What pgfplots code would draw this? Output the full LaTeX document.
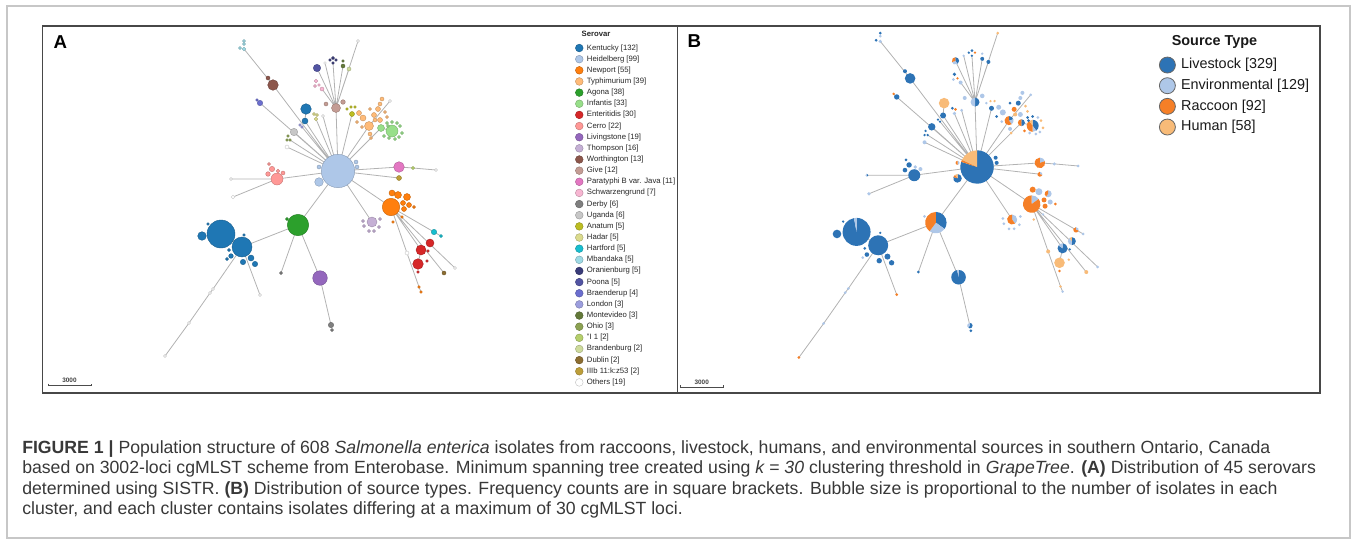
\documentclass[border=0pt]{standalone}
\usepackage{pgfplots}
\pgfplotsset{compat=1.18}
\usepackage{pgfplotstable}
\usepackage{fontspec}
\setmainfont{Liberation Sans}
% serovar colours
\definecolor{Ke}{HTML}{1F77B4}\definecolor{He}{HTML}{AEC7E8}\definecolor{Ne}{HTML}{FF7F0E}
\definecolor{Ty}{HTML}{FFBB78}\definecolor{Ag}{HTML}{2CA02C}\definecolor{In}{HTML}{98DF8A}
\definecolor{En}{HTML}{D62728}\definecolor{Ce}{HTML}{FF9896}\definecolor{Li}{HTML}{9467BD}
\definecolor{Th}{HTML}{C5B0D5}\definecolor{Wo}{HTML}{8C564B}\definecolor{Gi}{HTML}{C49C94}
\definecolor{Pa}{HTML}{E377C2}\definecolor{Sc}{HTML}{F7B6D2}\definecolor{De}{HTML}{7F7F7F}
\definecolor{Ug}{HTML}{C7C7C7}\definecolor{An}{HTML}{BCBD22}\definecolor{Ha}{HTML}{DBDB8D}
\definecolor{Hf}{HTML}{17BECF}\definecolor{Mb}{HTML}{9EDAE5}\definecolor{Or}{HTML}{393B79}
\definecolor{Po}{HTML}{5254A3}\definecolor{Br}{HTML}{6B6ECF}\definecolor{Lo}{HTML}{9C9EDE}
\definecolor{Mo}{HTML}{637939}\definecolor{Oh}{HTML}{8CA252}\definecolor{Ii}{HTML}{B5CF6B}
\definecolor{Bb}{HTML}{CEDB9C}\definecolor{Du}{HTML}{8C6D31}\definecolor{Ib}{HTML}{BD9E39}
\definecolor{Ot}{HTML}{FFFFFF}
% source colours
\definecolor{Lv}{HTML}{2D73B5}\definecolor{Ev}{HTML}{AEC7E8}\definecolor{Ra}{HTML}{F57F27}\definecolor{Hu}{HTML}{F8BB78}

\newcommand\pieslice[2]{%
  \pgfmathsetmacro\fr{#1}%
  \ifdim\fr pt>0.001pt
    \pgfmathsetmacro\aS{90-360*\cum}%
    \pgfmathsetmacro\aE{90-360*(\cum+\fr)}%
    \pgfpathmoveto{\pgfpointorigin}%
    \pgfpathlineto{\pgfpointpolar{\aS}{\rp pt}}%
    \pgfpatharc{\aS}{\aE}{\rp pt}%
    \pgfpathclose
    \pgfsetfillcolor{#2}\pgfusepath{fill}%
    \pgfmathsetmacro\cum{\cum+\fr}%
  \fi}
\pgfdeclareplotmark{bubA}{%
  \pgfmathsetmacro\rp{0.75*\rr}%
  \pgfpathcircle{\pgfpointorigin}{\rp pt}%
  \pgfsetfillcolor{\pgfplotspointmeta}\pgfsetstrokecolor{\pgfplotspointmeta!78!black}\pgfsetlinewidth{0.3pt}%
  \pgfusepath{fill,stroke}}
\pgfdeclareplotmark{pieB}{%
  \pgfmathsetmacro\rp{0.75*\rr}%
  \def\cum{0}%
  \pieslice{\pL}{Lv}\pieslice{\pE}{Ev}\pieslice{\pR}{Ra}\pieslice{\pH}{Hu}}

\pgfplotsset{
  lgA/.style={legend image code/.code={\filldraw[fill=#1,draw=#1!75!black,line width=0.3pt] (2.9pt,0pt) circle[radius=2.9pt];}},
  lgB/.style={legend image code/.code={\filldraw[fill=#1,draw=black!60,line width=0.6pt] (6pt,0pt) circle[radius=6pt];}},
  pix/.style={at={(0,0)}, anchor=south west, scale only axis, width=1017.75pt, height=405pt,
    y dir=reverse, hide axis, clip=false, legend cell align=left},
  ownmarks/.style={scatter/@pre marker code/.code={\scope}, scatter/@post marker code/.code={\endscope}},
}
\tikzset{captxt/.style={anchor=base west, inner sep=0pt, font=\fontsize{13.25}{15}\selectfont, text=black!78}}

% nodes of the minimum spanning tree (positions in panel A pixels), radius, serovar, source fractions
\pgfplotstableread{
x y r c l e ra h
338 171 16.7 He 0.80 0 0.02 0.18
319 167 2.0 He 0 0.5 0.5 0
319 182 4.3 He 0.8 0 0.1 0.1
356 162 2.0 He 1 0 0 0
357 167 2.0 He 1 0 0 0
273 85 5.3 Wo 1 0 0 0
268 78 2.0 Wo 1 0 0 0
244 41 1.5 Mb 1 0 0 0
244 44 1.5 Mb 0 1 0 0
240 48 1.5 Mb 1 0 0 0
244 49 1.8 Mb 0 1 0 0
260 103 2.7 Br 1 0 0 0
257 100 1.3 Br 0 0 1 0
306 109 5.3 Ke 0 0 0 1
305 121 3.0 Ke 1 0 0 0
314 114 1.5 Ha 1 0 0 0
317 115 1.5 Ha 0 0 1 0
316 119 1.8 Ha 0 1 0 0
323 116 1.5 Ot 0 1 0 0
300 125 1.3 Lo 1 0 0 0
302 127 1.3 Lo 1 0 0 0
294 132 3.7 Ug 1 0 0 0
288 136 1.3 Oh 1 0 0 0
287 140 1.3 Oh 1 0 0 0
290 140 1.3 Oh 1 0 0 0
287 147 2.0 Ot 0 1 0 0
277 179 6.0 Ce 1 0 0 0
268 174 2.3 Ce 1 0 0 0
272 169 2.7 Ce 1 0 0 0
269 164 1.5 Ce 1 0 0 0
278 171 1.8 Ce 0 1 0 0
283 173 2.0 Ce 0 1 0 0
231 179 1.5 Ot 0.5 0.5 0 0
233 197 1.8 Ot 0 1 0 0
336 108 4.5 Gi 0.5 0.5 0 0
343 102 2.3 Gi 0 1 0 0
326 104 2.0 Gi 0 1 0 0
317 68 3.7 Po 0.4 0.3 0.3 0
330 60 1.3 Or 1 0 0 0
333 58 1.5 Or 1 0 0 0
336 60 1.3 Or 0 0 1 0
333 63 1.3 Or 1 0 0 0
325 63 1.3 Ot 0 1 0 0
343 61 1.3 Mo 0 1 0 0
343 66 2.0 Mo 1 0 0 0
349 69 2.0 Bb 1 0 0 0
358 41 1.5 Ot 0 0 0 1
316 81 1.8 Sc 1 0 0 0
315 86 1.5 Sc 0 1 0 0
322 89 2.0 Sc 0 1 0 0
319 85 1.3 Sc 0 0 1 0
352 114 2.5 An 1 0 0 0
347 109 1.3 An 0 1 0 0
351 107 1.3 An 0 0 0 1
355 107 1.3 An 0 0 0 1
369 126 4.5 Ty 0.2 0.2 0.6 0
359 113 2.5 Ty 0 1 0 0
363 118 3.0 Ty 0 1 0 0
370 109 1.5 Ty 1 0 0 0
378 109 2.5 Ty 1 0 0 0
380 104 2.0 Ty 0 1 0 0
382 99 2.0 Ty 0 1 0 0
374 115 2.5 Ty 0 0 1 0
375 120 2.0 Ty 0 0 0 1
380 120 2.5 Ty 0 1 0 0
385 112 1.5 Ty 0 0 0 1
387 117 1.5 Ty 0 0 0 1
370 134 2.0 Ty 0 1 0 0
371 138 1.5 Ty 0 0 0 1
362 127 1.5 Ty 0 1 0 0
357 122 1.5 Ty 1 0 0 0
390 101 1.5 Ot 0 1 0 0
392 131 6.0 In 0.4 0.1 0.4 0.1
381 128 3.5 In 0.5 0 0.5 0
387 123 1.5 In 1 0 0 0
392 122 1.5 In 1 0 0 0
397 123 1.5 In 0 1 0 0
400 126 1.5 In 0 0 0 1
402 133 1.5 In 0 0 0 1
399 137 1.5 In 0 1 0 0
395 139 1.5 In 0 1 0 0
389 138 1.5 In 0 1 0 0
384 136 1.5 In 0 0 1 0
388 126 1.5 In 1 0 0 0
399 167 5.3 Pa 0 0.2 0.8 0
413 168 1.7 Ii 0 1 0 0
436 170 1.5 Ot 0 1 0 0
399 178 2.5 Ib 0 0.3 0.7 0
391 207 8.7 Ne 0 0.15 0.85 0
392 193 3.0 Ne 0 0 1 0
398 195 3.5 Ne 0 1 0 0
407 197 3.5 Ne 0 0.6 0.4 0
403 203 2.5 Ne 0 0 1 0
409 205 2.5 Ne 0 1 0 0
414 207 1.5 Ne 0 0 1 0
404 209 2.5 Ne 0 0 1 0
402 217 1.3 Ne 0 1 0 0
393 222 1.3 Ne 0 0 0 1
372 222 5.0 Th 0 0.4 0.6 0
363 221 1.5 Th 0 1 0 0
364 226 1.5 Th 0 1 0 0
369 231 1.5 Th 0 1 0 0
374 231 1.5 Th 0 1 0 0
379 227 1.5 Th 0 1 0 0
380 219 1.5 Th 0 1 0 0
434 232 2.7 Hf 0 0.3 0.7 0
441 236 1.5 Hf 0 1 0 0
421 250 5.0 En 0.85 0.15 0 0
430 243 4.0 En 0.5 0.4 0 0.1
418 264 5.3 En 0 0 0 1
428 251 1.3 En 1 0 0 0
427 261 1.3 En 0 0 0 1
418 272 1.3 En 0 0 1 0
407 253 2.0 Ot 0 0 0 1
444 273 2.0 Du 0 0 0 1
455 268 1.5 Ot 0 1 0 0
419 287 1.3 Ne 0 0 0 1
421 292 1.3 Ne 0 1 0 0
298 225 10.7 Ag 0.35 0.25 0.4 0
287 219 1.5 Ag 0 1 0 0
221 234 14.0 Ke 0.97 0.03 0 0
202 236 4.3 Ke 1 0 0 0
242 247 10.0 Ke 1 0 0 0
208 224 1.3 Ke 1 0 0 0
244 235 1.3 Ke 1 0 0 0
229 250 1.5 Ke 1 0 0 0
231 256 2.3 Ke 1 0 0 0
227 259 1.5 Ke 0 1 0 0
243 262 2.7 Ke 1 0 0 0
251 258 3.0 Ke 1 0 0 0
255 264 2.7 Ke 1 0 0 0
281 273 1.5 De 1 0 0 0
320 278 7.3 Li 0.97 0.03 0 0
331 325 2.7 De 0.6 0.4 0 0
332 330 1.5 De 1 0 0 0
260 295 1.5 Ot 0 0 1 0
213 289 1.5 Ot 0 1 0 0
210 293 1.5 Ot 0 1 0 0
189 323 1.5 Ot 0 1 0 0
165 356 1.5 Ot 0 0 1 0
}\treenodes

% edges of the tree (paths separated by nan rows)
\pgfplotstableread{
x y
338 171
273 85
244 49
nan nan
338 171
260 103
257 100
nan nan
338 171
305 121
306 109
nan nan
338 171
316 119
nan nan
338 171
323 116
nan nan
338 171
302 127
nan nan
338 171
294 132
nan nan
338 171
290 140
nan nan
338 171
287 147
nan nan
338 171
277 179
231 179
nan nan
277 179
233 197
nan nan
338 171
336 108
317 68
nan nan
336 108
325 63
nan nan
336 108
333 63
nan nan
336 108
343 66
nan nan
336 108
349 69
nan nan
336 108
358 41
nan nan
336 108
322 89
nan nan
338 171
352 114
nan nan
338 171
369 126
390 101
nan nan
338 171
381 128
392 131
nan nan
338 171
399 167
413 168
436 170
nan nan
338 171
399 178
nan nan
338 171
391 207
434 232
441 236
nan nan
391 207
421 250
418 264
nan nan
391 207
444 273
nan nan
391 207
455 268
nan nan
391 207
407 253
419 287
421 292
nan nan
338 171
372 222
nan nan
338 171
298 225
242 247
221 234
nan nan
242 247
213 289
210 293
189 323
165 356
nan nan
242 247
260 295
nan nan
298 225
281 273
nan nan
298 225
320 278
331 325
}\treeedges

\begin{document}
\begin{tikzpicture}
\path[use as bounding box] (0,0) rectangle (1017.75pt,405pt);
% ---------------- panel A (pixel coordinates) ----------------
\begin{axis}[pix, xmin=0, xmax=1357, ymin=0, ymax=540,
  legend style={at={(axis cs:575.2,33.2)}, anchor=north west, draw=none, fill=none,
    inner sep=0pt, outer sep=0pt, row sep=2.26pt, column sep=2.7pt,
    font=\fontsize{5.8}{6.5}\selectfont, text=black!85,
    nodes={inner sep=0pt, text height=4.4pt, text depth=1.4pt}}]
\addlegendimage{empty legend}\addlegendentry{\hspace*{-4pt}\raisebox{2.3pt}{\bfseries Serovar}}
\addlegendimage{lgA=Ke}\addlegendentry{Kentucky [132]}
\addlegendimage{lgA=He}\addlegendentry{Heidelberg [99]}
\addlegendimage{lgA=Ne}\addlegendentry{Newport [55]}
\addlegendimage{lgA=Ty}\addlegendentry{Typhimurium [39]}
\addlegendimage{lgA=Ag}\addlegendentry{Agona [38]}
\addlegendimage{lgA=In}\addlegendentry{Infantis [33]}
\addlegendimage{lgA=En}\addlegendentry{Enteritidis [30]}
\addlegendimage{lgA=Ce}\addlegendentry{Cerro [22]}
\addlegendimage{lgA=Li}\addlegendentry{Livingstone [19]}
\addlegendimage{lgA=Th}\addlegendentry{Thompson [16]}
\addlegendimage{lgA=Wo}\addlegendentry{Worthington [13]}
\addlegendimage{lgA=Gi}\addlegendentry{Give [12]}
\addlegendimage{lgA=Pa}\addlegendentry{Paratyphi B var. Java [11]}
\addlegendimage{lgA=Sc}\addlegendentry{Schwarzengrund [7]}
\addlegendimage{lgA=De}\addlegendentry{Derby [6]}
\addlegendimage{lgA=Ug}\addlegendentry{Uganda [6]}
\addlegendimage{lgA=An}\addlegendentry{Anatum [5]}
\addlegendimage{lgA=Ha}\addlegendentry{Hadar [5]}
\addlegendimage{lgA=Hf}\addlegendentry{Hartford [5]}
\addlegendimage{lgA=Mb}\addlegendentry{Mbandaka [5]}
\addlegendimage{lgA=Or}\addlegendentry{Oranienburg [5]}
\addlegendimage{lgA=Po}\addlegendentry{Poona [5]}
\addlegendimage{lgA=Br}\addlegendentry{Braenderup [4]}
\addlegendimage{lgA=Lo}\addlegendentry{London [3]}
\addlegendimage{lgA=Mo}\addlegendentry{Montevideo [3]}
\addlegendimage{lgA=Oh}\addlegendentry{Ohio [3]}
\addlegendimage{lgA=Ii}\addlegendentry{"I 1 [2]}
\addlegendimage{lgA=Bb}\addlegendentry{Brandenburg [2]}
\addlegendimage{lgA=Du}\addlegendentry{Dublin [2]}
\addlegendimage{lgA=Ib}\addlegendentry{IIIb 11:k:z53 [2]}
\addlegendimage{lgA=Ot}\addlegendentry{Others [19]}
% frames
\draw[black!22, line width=0.8pt] (axis cs:7,6) rectangle (axis cs:1350,538);
\draw[black!72, line width=1.1pt] (axis cs:42.7,26) rectangle (axis cs:677.5,393);
\draw[black!72, line width=1.1pt] (axis cs:677.5,26) rectangle (axis cs:1320,393);
% edges and bubbles
\addplot[black!30, line width=0.6pt, mark=none, forget plot, unbounded coords=jump] table[x=x, y=y] {\treeedges};
\addplot[scatter, only marks, mark=bubA, forget plot, ownmarks, point meta=explicit symbolic,
  visualization depends on={\thisrow{r}\as\rr}] table[x=x, y=y, meta=c] {\treenodes};
% labels
\node[anchor=west, font=\bfseries\fontsize{14}{16}\selectfont] at (axis cs:49,42) {A};
\node[anchor=west, font=\bfseries\fontsize{14}{16}\selectfont] at (axis cs:683,41) {B};
\draw[black!70, line width=0.6pt] (axis cs:48.3,383.5) -- (axis cs:48.3,385.7) -- (axis cs:91,385.7) -- (axis cs:91,383.5);
\node[font=\bfseries\fontsize{4.8}{5}\selectfont, text=black!75] at (axis cs:69.5,380.5) {3000};
\draw[black!70, line width=0.6pt] (axis cs:680,385.1) -- (axis cs:680,387.3) -- (axis cs:723.3,387.3) -- (axis cs:723.3,385.1);
\node[font=\bfseries\fontsize{4.8}{5}\selectfont, text=black!75] at (axis cs:701.7,382.2) {3000};
% caption
\node[captxt] at (axis cs:22,453.5)
  {\textbf{FIGURE 1 |} Population structure of 608 \textit{Salmonella enterica} isolates from raccoons, livestock, humans, and environmental sources in southern Ontario, Canada};
\node[captxt] at (axis cs:22,473.8)
  {based on 3002-loci cgMLST scheme from Enterobase. Minimum spanning tree created using \textit{k = 30} clustering threshold in \textit{GrapeTree}. \textbf{(A)} Distribution of 45 serovars};
\node[captxt] at (axis cs:22,494.3)
  {determined using SISTR. \textbf{(B)} Distribution of source types. Frequency counts are in square brackets. Bubble size is proportional to the number of isolates in each};
\node[captxt] at (axis cs:22,514.8)
  {cluster, and each cluster contains isolates differing at a maximum of 30 cgMLST loci.};
\end{axis}
% ---------------- panel B (same tree, axis limits shifted/scaled onto panel B) ----------------
\begin{axis}[pix, xmin=-610.544, xmax=706.932, ymin=8.864, ymax=533.136,
  legend style={at={(axis cs:514.6,46.63)}, anchor=north west, draw=none, fill=none,
    inner sep=0pt, outer sep=0pt, row sep=2.9pt, column sep=4pt,
    font=\fontsize{10.8}{12}\selectfont, text=black!90,
    nodes={inner sep=0pt, text height=8pt, text depth=2.4pt}}]
\addlegendimage{empty legend}\addlegendentry{\hspace*{-7pt}\raisebox{2.9pt}{\bfseries Source Type}}
\addlegendimage{lgB=Lv}\addlegendentry{Livestock [329]}
\addlegendimage{lgB=Ev}\addlegendentry{Environmental [129]}
\addlegendimage{lgB=Ra}\addlegendentry{Raccoon [92]}
\addlegendimage{lgB=Hu}\addlegendentry{Human [58]}
\addplot[black!30, line width=0.6pt, mark=none, forget plot, unbounded coords=jump] table[x=x, y=y] {\treeedges};
\addplot[scatter, only marks, mark=pieB, forget plot, ownmarks, point meta=explicit,
  visualization depends on={\thisrow{r}\as\rr},
  visualization depends on={\thisrow{l}\as\pL},
  visualization depends on={\thisrow{e}\as\pE},
  visualization depends on={\thisrow{ra}\as\pR},
  visualization depends on={\thisrow{h}\as\pH}]
  table[x=x, y=y, meta=r] {\treenodes};
\end{axis}
\end{tikzpicture}
\end{document}
